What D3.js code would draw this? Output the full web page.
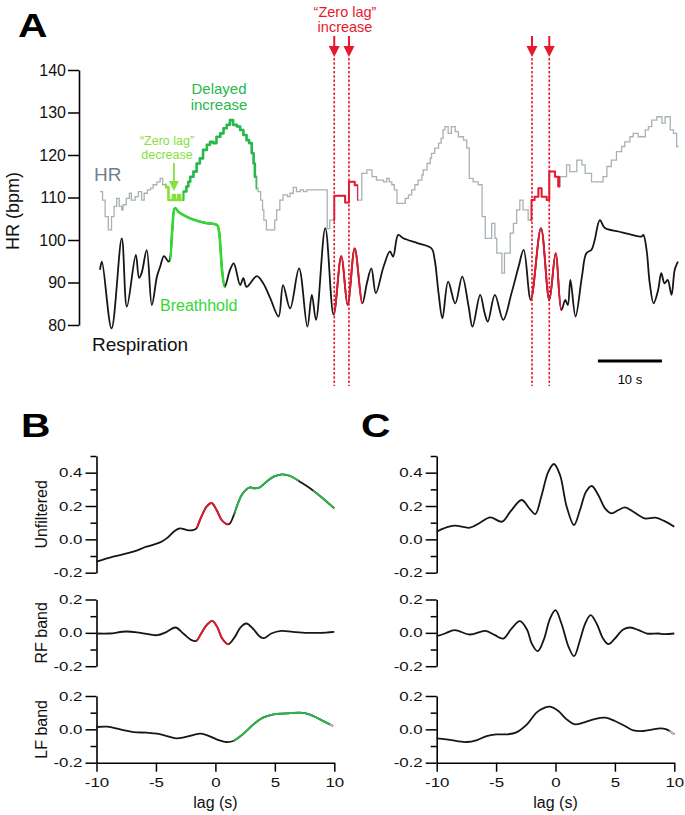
<!DOCTYPE html>
<html><head><meta charset="utf-8">
<script src="https://cdn.jsdelivr.net/npm/d3@7"></script>
<style>
body{margin:0;background:#fff}
text{font-family:Arial,"Liberation Sans",Helvetica,sans-serif}
</style></head>
<body><svg id="c" width="685" height="815"></svg>
<script>
// ---------------- DATA ----------------
// Panel A: heart rate (step trace), time in s, HR in bpm
const hrTime = [0,0.4,0.8,1.3,1.8,2.2,2.6,3.0,3.4,3.6,4.1,4.6,4.9,5.5,6.0,6.5,6.9,7.4,7.9,8.3,8.9,9.4,9.8,
 10.3,10.7,11.4,11.7,12.2,12.5,13.0,13.5,13.8,14.1,14.6,15.1,15.6,16.1,16.7,17.2,17.7,18.2,18.8,19.3,19.8,20.3,20.8,
 21.4,21.9,22.4,22.9,23.3,23.7,24.0,24.2,24.5,24.7,25.1,25.4,25.6,26.0,27.3,27.6,28.1,28.6,29.3,29.7,30.2,30.7,31.3,
 31.8,32.3,35.5,35.9,36.6,38.3,38.9,39.8,40.3,40.9,41.7,42.5,43.2,44.3,44.8,45.2,45.6,46.0,46.4,47.7,48.2,48.7,49.2,
 49.7,50.3,50.5,51.1,51.6,51.8,52.3,52.9,53.3,53.6,53.9,54.4,54.9,55.5,56.0,56.8,57.3,57.7,58.3,59.1,59.7,60.2,61.2,
 61.7,62.0,62.8,63.2,64.1,64.6,65.1,65.6,66.1,66.9,67.4,67.9,68.5,69.0,69.8,70.2,71.1,71.6,71.9,72.9,73.4,74.5,75.3,
 75.8,76.8,78.6,79.2,79.9,80.7,81.5,82.0,82.8,83.3,84.1,85.2,85.7,86.2,87.0,87.8,88.3,89.1,89.6,90.1,90.4];
const hrValue = [111.4,109.4,105.5,102.4,105.5,107.9,109.8,107.9,107.1,108.3,109.8,111.0,109.4,110.2,111.4,109.4,111.0,111.8,112.2,113.0,113.7,114.5,113.0,
 112.4,109.4,110.6,109.4,110.6,109.4,111.4,112.6,113.7,114.9,116.1,118.0,119.2,121.2,122.4,123.1,122.8,124.3,125.1,126.3,127.1,128.2,127.1,
 126.7,125.9,124.7,123.5,122.8,120.4,118.0,114.9,112.2,111.4,109.4,107.1,104.7,102.4,104.7,107.1,109.4,110.6,110.2,111.0,112.4,111.4,111.8,
 111.4,111.8,102.7,104.7,110.4,108.8,113.7,112.9,109.4,115.7,116.5,114.9,114.1,113.7,114.5,113.7,113.0,111.8,108.6,109.8,110.6,111.8,113.0,
 114.1,115.3,116.5,118.0,119.2,120.4,121.6,122.8,123.9,125.9,126.7,125.1,126.7,125.5,124.3,123.5,121.6,114.5,113.7,113.0,105.5,100.4,103.9,
 100.4,96.9,92.2,96.9,101.6,103.9,107.1,109.4,107.1,104.7,109.4,110.2,112.2,110.2,109.4,116.1,114.9,112.6,114.9,117.7,116.1,118.8,117.7,
 115.7,113.7,114.9,117.3,118.8,120.8,122.0,123.1,124.3,125.1,124.3,125.9,126.7,128.2,129.0,127.5,129.0,125.9,125.1,122.0,122.0];

// Panel A: respiration trace (plotted on the HR axis)
const respTime = [0,0.3,1.8,3.4,4.2,5.6,6.1,6.5,7.3,8.1,8.9,9.4,10.0,10.7,10.9,11.3,11.7,12.3,13.5,15.0,16.5,18.3,18.6,18.85,19.1,19.5,
 20.3,20.9,21.9,22.4,22.9,24.5,25.5,26.6,27.9,28.6,29.7,31.1,32.4,33.1,33.75,35.2,36.5,37.7,38.7,39.8,41.0,41.7,42.4,
 43.1,44.3,45.3,45.8,46.6,47.4,49.7,51.8,52.3,52.9,53.5,54.4,55.5,56.6,57.6,58.2,59.4,60.1,60.6,61.7,63.0,64.3,65.4,
 66.2,67.3,68.9,70.2,71.2,72.1,72.7,73.1,73.5,74.3,75.3,76.0,76.8,77.3,78.1,78.9,81.0,83.1,84.6,84.9,85.4,85.9,86.5,
 87.2,87.7,88.2,88.7,89.3,89.8,90.3];
const respValue = [93.0,94.9,79.2,100.4,84.3,96.5,91.1,92.2,97.6,84.7,91.4,93.7,96.2,94.9,95.3,102.5,107.5,106.6,105.5,104.6,104.0,103.5,102.0,97.5,92.5,89.0,
 92.9,94.5,89.4,91.0,89.0,91.5,89.8,86.3,82.0,89.4,83.9,93.3,79.6,87.1,81.2,102.8,82.4,96.2,84.7,98.0,85.1,89.8,93.3,
 87.5,93.7,97.3,96.1,101.2,100.4,99.2,98.0,95.3,87.5,81.6,90.2,85.1,91.4,84.3,79.6,87.1,82.8,80.8,87.1,81.2,87.5,93.7,
 97.7,85.9,102.8,85.9,96.9,83.5,85.9,84.7,90.6,82.0,91.4,96.9,97.7,100.0,104.7,102.8,102.0,101.2,100.8,101.2,97.7,89.8,85.1,
 88.2,92.2,89.8,90.6,87.1,93.0,94.9];

const hrTicks = [80,90,100,110,120,130,140];
const zeroLagTimes = [36.6, 38.9, 67.5, 70.2];
const scaleBarStart = 77.8, scaleBarLength = 10;

// Panel B: cross-correlation vs lag (s)
const lagTicks = [-10,-5,0,5,10];
const bUnfLag = [-10,-8.6,-6.9,-5.8,-4.7,-4.1,-3.5,-3.0,-2.4,-1.9,-1.6,-1.3,-0.74,-0.32,0.1,0.52,0.94,1.2,1.5,1.9,2.3,2.9,3.3,3.7,4.3,4.9,5.6,6.3,7.1,7.9,8.8,10];
const bUnfVal = [-0.134,-0.104,-0.074,-0.044,-0.02,0.006,0.046,0.066,0.056,0.055,0.066,0.116,0.196,0.218,0.176,0.116,0.092,0.094,0.136,0.216,0.276,0.312,0.306,0.31,0.346,0.376,0.39,0.38,0.346,0.31,0.26,0.186];
const bRfLag = [-10,-8.9,-7.5,-6.3,-4.9,-4.1,-3.35,-2.7,-2.0,-1.6,-1.2,-0.74,-0.27,0.15,0.57,1.08,1.64,2.1,2.6,3.15,3.7,4.1,4.7,5.55,6.5,7.7,8.8,10];
const bRfVal = [-0.004,-0.004,0.008,0,-0.014,0.006,0.032,-0.004,-0.044,-0.048,-0.004,0.046,0.072,0.036,-0.034,-0.068,-0.024,0.032,0.056,0.026,-0.02,-0.032,-0.004,0.012,0.006,0,0,0.006];
const bLfLag = [-10,-9.1,-8.0,-6.9,-5.8,-4.9,-4.1,-3.3,-2.4,-1.3,-0.74,0.1,0.94,1.5,2.3,3.2,4.0,4.9,6.0,7.1,7.9,8.8,9.9];
const bLfVal = [0.014,0.016,0,-0.016,-0.02,-0.026,-0.04,-0.054,-0.044,-0.026,-0.034,-0.06,-0.076,-0.07,-0.03,0.03,0.07,0.09,0.096,0.1,0.09,0.06,0.02];

// Panel C
const cUnfLag = [-10,-9.4,-8.5,-7.2,-6.35,-5.5,-4.5,-3.8,-2.85,-2.2,-1.7,-1.2,-0.6,-0.13,0.38,0.94,1.56,2.06,2.57,3.05,3.6,4.17,4.7,5.3,5.85,6.55,7.5,8.4,9.1,10];
const cUnfVal = [0.046,0.066,0.082,0.07,0.1,0.132,0.106,0.166,0.236,0.186,0.152,0.256,0.406,0.452,0.386,0.196,0.086,0.176,0.286,0.32,0.266,0.186,0.156,0.176,0.192,0.166,0.126,0.13,0.112,0.076];
const cRfLag = [-10,-9.3,-8.5,-7.2,-5.9,-5.1,-4.4,-3.7,-3.0,-2.4,-2.0,-1.5,-1.0,-0.46,0,0.5,1.1,1.56,2.06,2.5,2.96,3.46,4.0,4.45,5.0,5.7,6.3,7.0,7.7,8.65,9.2,10];
const cRfVal = [-0.02,-0.004,0.016,-0.01,0.012,-0.014,-0.034,0.026,0.07,0.02,-0.064,-0.11,-0.044,0.086,0.136,0.056,-0.084,-0.14,-0.044,0.056,0.106,0.056,-0.034,-0.068,-0.034,0.02,0.032,0.016,-0.004,-0.004,-0.008,-0.004];
const cLfLag = [-10,-9.2,-8.3,-7.5,-6.6,-5.8,-5.0,-4.1,-3.3,-2.4,-1.6,-0.9,-0.46,0.24,0.94,1.64,2.34,3.2,4.2,5.0,5.85,6.55,7.4,8.1,8.8,9.35,10];
const cLfVal = [-0.054,-0.06,-0.07,-0.076,-0.064,-0.04,-0.03,-0.03,-0.018,0.03,0.1,0.13,0.136,0.11,0.06,0.03,0.04,0.06,0.07,0.05,0.02,-0.006,-0.01,-0.002,0.006,0,-0.03];

// ---------------- STYLE ----------------
const C = {
  black:"#161616", hrGray:"#a9b1b5", red:"#e6192e", green:"#27b84a", lightGreen:"#86e03e",
  bhGreen:"#33d933", hrLabel:"#6f7f8f", fade:"#b8b8b8"
};

const svg = d3.select("#c");
const defs = svg.append("defs");
let clipId = 0;
function overlay(d, x, from, to, color, width, extra) {
  const id = "clip" + (clipId++);
  defs.append("clipPath").attr("id", id).append("rect")
    .attr("x", x(from) - (extra||0)).attr("width", x(to) - x(from) + (extra||0))
    .attr("y", 0).attr("height", 815);
  svg.append("path").attr("d", d).attr("clip-path", `url(#${id})`)
    .attr("fill","none").attr("stroke", color).attr("stroke-width", width)
    .attr("stroke-linejoin","round");
}

// ---------------- PANEL A ----------------
const xA = d3.scaleLinear().domain([0, 90]).range([100, 676]);
const yA = d3.scaleLinear().domain([80, 140]).range([325, 70]);

const axA = svg.append("g").attr("transform","translate(79,0)")
  .call(d3.axisLeft(yA).tickValues(hrTicks).tickSize(11).tickSizeOuter(0).tickPadding(2));
axA.selectAll("text").attr("font-size",16).attr("fill","#111");

// dashed zero-lag lines
zeroLagTimes.forEach(t => {
  svg.append("line").attr("x1",xA(t)).attr("x2",xA(t)).attr("y1",58).attr("y2",386)
    .attr("stroke",C.red).attr("stroke-width",1.6).attr("stroke-dasharray","2.5,1.8");
  svg.append("line").attr("x1",xA(t)).attr("x2",xA(t)).attr("y1",36).attr("y2",48)
    .attr("stroke",C.red).attr("stroke-width",2);
  svg.append("path").attr("d",`M${xA(t)-5.5},46 L${xA(t)+5.5},46 L${xA(t)},57 Z`).attr("fill",C.red);
});

// HR step trace
const hrPts = hrTime.map((t,i)=>[t,hrValue[i]]);
const hrLine = d3.line().x(d=>xA(d[0])).y(d=>yA(d[1])).curve(d3.curveStepAfter);
const hrD = hrLine(hrPts);
svg.append("path").attr("d",hrD).attr("fill","none").attr("stroke",C.hrGray).attr("stroke-width",1.3);
overlay(hrD, xA, 10.3, 13.0, C.lightGreen, 2.6, 1);
overlay(hrD, xA, 13.0, 24.5, C.green, 2.6, 0);
overlay(hrD, xA, 36.6, 40.3, C.red, 2.0, 1);
overlay(hrD, xA, 67.4, 71.9, C.red, 2.0, 1);

// Respiration trace
const respPts = respTime.map((t,i)=>[t,respValue[i]]);
const respLine = d3.line().x(d=>xA(d[0])).y(d=>yA(d[1])).curve(d3.curveCatmullRom.alpha(0.5));
const respD = respLine(respPts);
svg.append("path").attr("d",respD).attr("fill","none").attr("stroke",C.black).attr("stroke-width",1.8);
overlay(respD, xA, 10.9, 19.5, C.bhGreen, 2.6);
overlay(respD, xA, 36.5, 41.0, C.red, 1.9);
overlay(respD, xA, 67.3, 72.1, C.red, 1.9);

// scale bar
svg.append("line").attr("x1",xA(scaleBarStart)).attr("x2",xA(scaleBarStart+scaleBarLength))
  .attr("y1",361).attr("y2",361).attr("stroke","#000").attr("stroke-width",3);
svg.append("text").attr("x",(xA(scaleBarStart)+xA(scaleBarStart+scaleBarLength))/2).attr("y",384)
  .attr("text-anchor","middle").attr("font-size",13).text("10 s");

// zero-lag decrease arrow
const decX = xA(11.55);
svg.append("line").attr("x1",decX).attr("x2",decX).attr("y1",163).attr("y2",184).attr("stroke",C.lightGreen).attr("stroke-width",1.8);
svg.append("path").attr("d",`M${decX-5},181 L${decX+5},181 L${decX},191 Z`).attr("fill",C.lightGreen);

// Panel A labels
function txt(x,y,s,size,color,anchor,weight){
  return svg.append("text").attr("x",x).attr("y",y).attr("font-size",size).attr("fill",color||"#111")
    .attr("text-anchor",anchor||"start").attr("font-weight",weight||"normal").text(s);
}
svg.append("text").attr("transform","translate(19,211) rotate(-90)").attr("text-anchor","middle")
  .attr("font-size",18).attr("fill","#111").text("HR (bpm)");
txt(94,181,"HR",19,C.hrLabel);
txt(92,351,"Respiration",19,"#111");
txt(160,311,"Breathhold",16,C.bhGreen);
txt(219,94,"Delayed",15,C.green,"middle");
txt(219,110,"increase",15,C.green,"middle");
txt(167,145,"\u201CZero lag\u201D",12.5,C.lightGreen,"middle");
txt(167,159,"decrease",12.5,C.lightGreen,"middle");
txt(345,17,"\u201CZero lag\u201D",14.5,C.red,"middle");
txt(345,32,"increase",14.5,C.red,"middle");

// panel letters
[["A",18,37],["B",21,437],["C",361,437]].forEach(([s,x,y])=>{
  svg.append("text").attr("transform",`translate(${x},${y}) scale(1.2,1)`).attr("font-size",34)
    .attr("font-weight","bold").attr("fill","#000").text(s);
});

// ---------------- PANELS B & C ----------------
const fmt = d => d.toFixed(1);
function corrPanel(xr, yr, dom, lags, vals, segs, withX, ylabel) {
  const x = d3.scaleLinear().domain([-10,10]).range(xr);
  const y = d3.scaleLinear().domain(dom).range(yr);
  const major = [], minor = [];
  for (let v = Math.round(dom[0]*10); v <= Math.round(dom[1]*10); v++) {
    (v % 2 === 0 ? major : minor).push(v/10);
  }
  const g = svg.append("g").attr("transform",`translate(${xr[0]},0)`);
  g.call(d3.axisLeft(y).tickValues(major).tickSize(11).tickSizeOuter(0).tickPadding(3).tickFormat(fmt));
  svg.append("g").attr("transform",`translate(${xr[0]},0)`)
    .call(d3.axisLeft(y).tickValues(minor).tickSize(6).tickSizeOuter(0).tickFormat(""))
    .select(".domain").remove();
  g.selectAll("text").attr("font-size",12.5).attr("fill","#111").classed("stretch",true);
  if (withX) {
    const gx = svg.append("g").attr("transform",`translate(0,${yr[0]})`)
      .call(d3.axisBottom(x).tickValues(lagTicks).tickSize(9).tickSizeOuter(0).tickPadding(6).tickFormat(d=>String(d)));
    gx.selectAll("text").attr("font-size",12.5).attr("fill","#111").classed("stretch",true);
    svg.append("text").attr("x",(xr[0]+xr[1])/2).attr("y",808).attr("text-anchor","middle")
      .attr("font-size",16).attr("fill","#111").text("lag (s)");
  }
  if (ylabel) {
    svg.append("text").attr("transform",`translate(${xr[0]-50},${(yr[0]+yr[1])/2}) rotate(-90)`)
      .attr("text-anchor","middle").attr("font-size",16).attr("fill","#111").text(ylabel);
  }
  const pts = lags.map((l,i)=>[l, vals[i]]);
  const d = d3.line().x(p=>x(p[0])).y(p=>y(p[1])).curve(d3.curveCatmullRom.alpha(0.5))(pts);
  svg.append("path").attr("d",d).attr("fill","none").attr("stroke",C.black).attr("stroke-width",1.8);
  (segs||[]).forEach(s => overlay(d, x, s[0], s[1], s[2], 1.9));
}
const bx = [96.5, 334.3], cx = [436.7, 674.3];
const yUnf = [572.7, 456], yRf = [666.2, 599.5], yLf = [762.7, 696];

corrPanel(bx, yUnf, [-0.2,0.5], bUnfLag, bUnfVal,
  [[-1.6,1.1,C.red],[1.6,7.0,C.green],[8.2,10,C.green]], false, "Unfiltered");
corrPanel(bx, yRf, [-0.2,0.2], bRfLag, bRfVal, [[-1.6,1.15,C.red]], false, "RF band");
corrPanel(bx, yLf, [-0.2,0.2], bLfLag, bLfVal, [[1.5,9.6,C.green],[9.6,10,C.fade]], true, "LF band");

corrPanel(cx, yUnf, [-0.2,0.5], cUnfLag, cUnfVal, [], false, null);
corrPanel(cx, yRf, [-0.2,0.2], cRfLag, cRfVal, [], false, null);
corrPanel(cx, yLf, [-0.2,0.2], cLfLag, cLfVal, [[9.6,10,C.fade]], true, null);

// axis styling
svg.selectAll(".domain").attr("stroke","#000").attr("stroke-width",1.6);
svg.selectAll(".tick line").attr("stroke","#000").attr("stroke-width",1.5);
// horizontally widened tick labels in B and C
svg.selectAll("text.stretch").each(function(){
  const len = this.getComputedTextLength();
  d3.select(this).attr("textLength", len*1.35).attr("lengthAdjust","spacingAndGlyphs");
});
</script></body></html>
